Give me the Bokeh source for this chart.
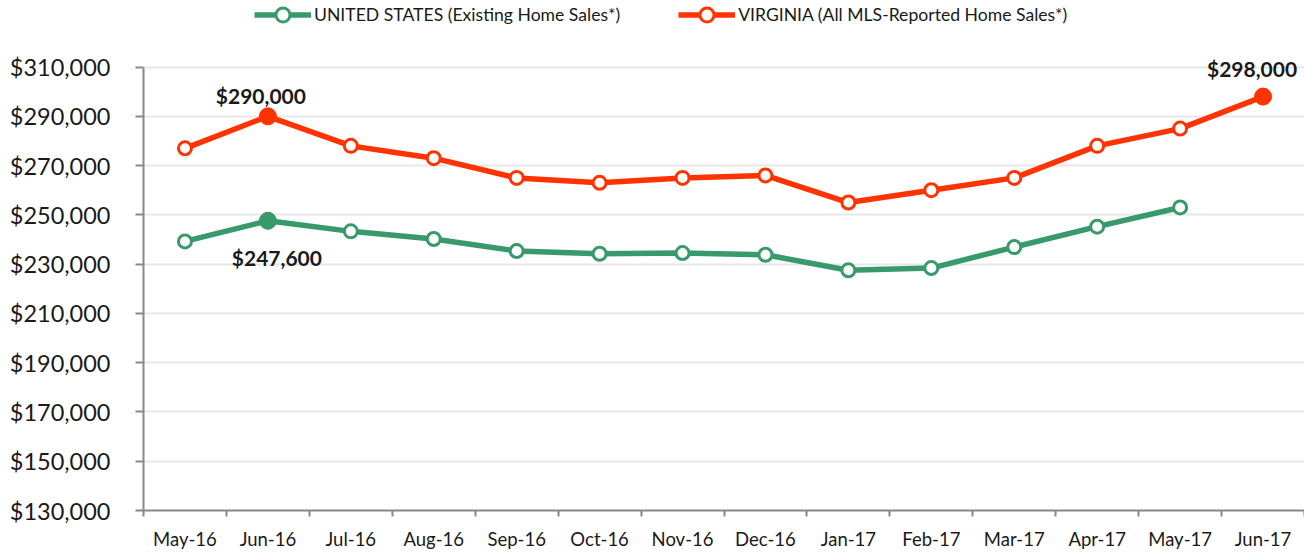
import numpy as np
from bokeh.plotting import figure
from bokeh.models import Range1d, FixedTicker, NumeralTickFormatter, Legend, LegendItem, Label
from bokeh.embed import file_html
from bokeh.resources import INLINE

# ---- data ----
months = ["May-16", "Jun-16", "Jul-16", "Aug-16", "Sep-16", "Oct-16", "Nov-16",
          "Dec-16", "Jan-17", "Feb-17", "Mar-17", "Apr-17", "May-17", "Jun-17"]
us_values = [239200, 247600, 243300, 240200, 235300, 234200, 234500,
             233800, 227500, 228400, 236900, 245200, 253000, np.nan]
va_values = [277000, 290000, 278000, 273000, 265000, 263000, 265000,
             266000, 255000, 260000, 265000, 278000, 285000, 298000]
y_ticks = [130000, 150000, 170000, 190000, 210000, 230000, 250000, 270000, 290000, 310000]
us_series = "UNITED STATES (Existing Home Sales*)"
va_series = "VIRGINIA (All MLS-Reported Home Sales*)"
us_highlight = [1]
va_highlight = [1, 13]

# ---- styles ----
GREEN = "#38996B"
RED = "#FF3300"
AXIS = "#888888"
TXT = "#1a1a1a"
FONT = "Lato"
Y_HEADROOM = 27000  # empty space above the top tick, holds legend and labels

n = len(months)
xc = [i + 0.5 for i in range(n)]

p = figure(width=1304, height=552, x_range=Range1d(0, n),
           y_range=Range1d(y_ticks[0], y_ticks[-1] + Y_HEADROOM),
           output_backend="svg", toolbar_location=None,
           min_border_left=143, min_border_right=0, min_border_top=0, min_border_bottom=39)
p.outline_line_color = None
p.background_fill_color = "white"
p.border_fill_color = "white"

# axes
xa = p.xaxis[0]
xa.ticker = FixedTicker(ticks=xc, minor_ticks=list(range(n + 1)))
xa.major_label_overrides = {x: m for x, m in zip(xc, months)}
xa.major_tick_out = 0
xa.major_tick_in = 0
xa.minor_tick_out = 6
xa.minor_tick_in = 0
xa.minor_tick_line_color = AXIS
xa.minor_tick_line_width = 2
xa.axis_line_color = AXIS
xa.axis_line_width = 2
xa.major_label_standoff = 11
xa.major_label_text_font = FONT
xa.major_label_text_font_size = "18.5px"
xa.major_label_text_color = TXT

ya = p.yaxis[0]
ya.ticker = FixedTicker(ticks=y_ticks)
ya.bounds = (y_ticks[0], y_ticks[-1])
ya.formatter = NumeralTickFormatter(format="$0,0")
ya.major_tick_out = 8
ya.major_tick_in = 0
ya.major_tick_line_color = AXIS
ya.major_tick_line_width = 2
ya.minor_tick_line_color = None
ya.axis_line_color = AXIS
ya.axis_line_width = 2
ya.major_label_standoff = 25
ya.major_label_text_font = FONT
ya.major_label_text_font_size = "23.5px"
ya.major_label_text_color = TXT

p.xgrid.visible = False
p.ygrid.grid_line_color = "#E8E8E8"
p.ygrid.grid_line_width = 2

# series
us_line = p.line(xc, us_values, line_color=GREEN, line_width=5.5)
va_line = p.line(xc, va_values, line_color=RED, line_width=5.5)
us_pts = p.scatter(xc, us_values, size=13, fill_color="white", line_color=GREEN, line_width=3)
va_pts = p.scatter(xc, va_values, size=13, fill_color="white", line_color=RED, line_width=3)
p.scatter([xc[i] for i in us_highlight], [us_values[i] for i in us_highlight],
          size=17, fill_color=GREEN, line_color=GREEN)
p.scatter([xc[i] for i in va_highlight], [va_values[i] for i in va_highlight],
          size=17, fill_color=RED, line_color=RED)

# data labels
label_offsets = {("va", 1): (-7, 21), ("us", 1): (9, -37), ("va", 13): (-11, 28)}
for key, (dx, dy) in label_offsets.items():
    series, i = key
    v = va_values[i] if series == "va" else us_values[i]
    p.add_layout(Label(x=xc[i], y=v, text=f"${v:,.0f}", x_offset=dx, y_offset=dy,
                       text_align="center", text_baseline="middle",
                       text_font=FONT, text_font_style="bold", text_font_size="21px",
                       text_color=TXT))

legend = Legend(items=[LegendItem(label=us_series, renderers=[us_line, us_pts]),
                       LegendItem(label=va_series, renderers=[va_line, va_pts])],
                orientation="horizontal", location=(111, 478),
                glyph_width=57, glyph_height=35, label_standoff=3, spacing=58,
                padding=0, margin=0, border_line_color=None, background_fill_alpha=0,
                label_text_font=FONT, label_text_font_size="17.6px", label_text_color=TXT)
p.add_layout(legend)

open("out.html", "w").write(file_html(p, INLINE))
